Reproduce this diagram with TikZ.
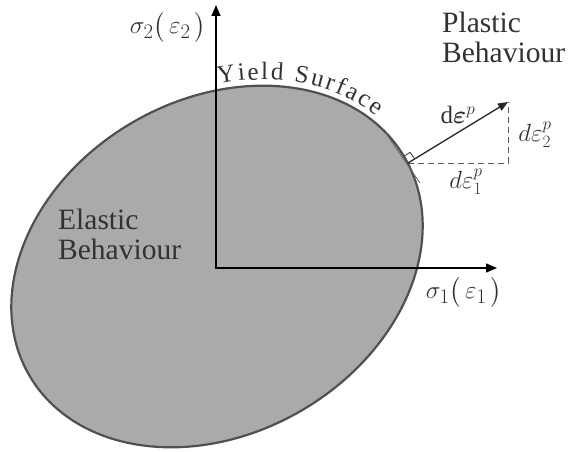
\documentclass[tikz,border=0pt]{standalone}
\usepackage{fontspec}
\setmainfont{Liberation Serif}
\usepackage{amsmath}
\usetikzlibrary{arrows.meta,decorations.text,calc}
\definecolor{surfgray}{RGB}{170,170,170}
\definecolor{edgegray}{RGB}{80,80,80}
\definecolor{txtgray}{RGB}{50,50,50}
\begin{document}
\begin{tikzpicture}[x=1pt,y=1pt,
  axisline/.style={line width=1.3pt,{Triangle[length=11pt,width=9pt]}-{Triangle[length=11pt,width=9pt]}},
  surf/.style={fill=surfgray,draw=edgegray,line width=2.2pt},
  lbl/.style={text=txtgray,font=\fontsize{29.5}{30}\selectfont,inner sep=0pt,align=left},
  mlbl/.style={text=txtgray,font=\fontsize{29}{30}\selectfont,inner sep=0pt},
  slbl/.style={text=txtgray,font=\fontsize{25}{26}\selectfont,inner sep=0pt},
  vec/.style={line width=1.3pt,draw=black!85,-{Triangle[length=10pt,width=8pt]}},
  dashline/.style={line width=0.9pt,draw=black!65,dash pattern=on 6pt off 4pt},
  tang/.style={line width=0.8pt,draw=black!60},
  rsq/.style={line width=0.9pt,draw=black!75}
]
\useasboundingbox (0,0) rectangle (568,452);
\coordinate (c) at (217,185.5);
\draw[surf,rotate around={30:(c)}] (c) ellipse[x radius=217,y radius=167];
% yield surface text
\path[rotate around={30:(c)},decorate,decoration={text along path,text align=fit to path,
  text={|\fontsize{25}{26}\selectfont\color{txtgray}|Yield Surface}}]
  ($(c)+(65.5:223 and 173)$) arc[start angle=65.5,end angle=17,x radius=223,y radius=173];
% axes
\coordinate (O) at (216,184);
\coordinate (ytip) at (216,447);
\coordinate (xtip) at (497,184);
\draw[axisline] (ytip) -- (O) -- (xtip);
% normal vector
\coordinate (f) at (408,289);
\coordinate (tp) at (508,350);
\coordinate (k) at (508,289);
\coordinate (t1) at (385,320);
\coordinate (t2) at (420,269);
\draw[tang] (t1) -- (t2);
\draw[dashline] (f) -- (k) -- (tp);
\draw[vec] (f) -- (tp);
\coordinate (q1) at ($(f)!8pt!(tp)$);
\coordinate (q2) at ($(f)!8pt!(t1)$);
\draw[rsq] (q1) -- ($(q1)+(q2)-(f)$) -- (q2);
% labels
\node[mlbl] (s2) at (168,425) {$\sigma_2\bigl(\,\varepsilon_2\,\bigr)$};
\node[mlbl] (s1) at (464,160) {$\sigma_1\bigl(\,\varepsilon_1\,\bigr)$};
\node[lbl,anchor=west] (el) at (58,218) {Elastic\\Behaviour};
\node[lbl,anchor=west] (pl) at (442,415) {Plastic\\Behaviour};
\node[slbl] (de) at (458,337) {$\mathrm{d}\boldsymbol{\varepsilon}^{p}$};
\node[slbl] (de2) at (535,317) {$d\varepsilon_2^{p}$};
\node[slbl] (de1) at (466,270) {$d\varepsilon_1^{p}$};
\end{tikzpicture}
\end{document}
